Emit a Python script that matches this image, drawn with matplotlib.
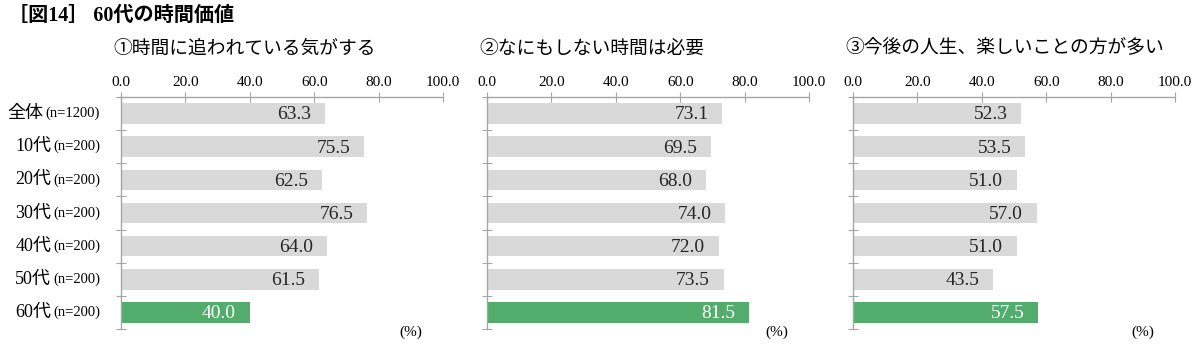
import matplotlib
matplotlib.use("Agg")
from matplotlib import pyplot as plt

# chart data
groups = ["全体", "10代", "20代", "30代", "40代", "50代", "60代"]
sizes = ["(n=1200)", "(n=200)", "(n=200)", "(n=200)", "(n=200)", "(n=200)", "(n=200)"]
titles = ["①時間に追われている気がする", "②なにもしない時間は必要", "③今後の人生、楽しいことの方が多い"]
values_1 = [63.3, 75.5, 62.5, 76.5, 64.0, 61.5, 40.0]
values_2 = [73.1, 69.5, 68.0, 74.0, 72.0, 73.5, 81.5]
values_3 = [52.3, 53.5, 51.0, 57.0, 51.0, 43.5, 57.5]
ticks = [0, 20, 40, 60, 80, 100]

serif = ["Liberation Serif", "Noto Sans CJK JP"]
sans = ["Noto Sans CJK JP", "DejaVu Sans"]
gray = "#D9D9D9"
green = "#52AD6D"
axis_col = "#A6A6A6"

fig = plt.figure(figsize=(12, 3.59), dpi=100)
fig.text(8 / 1200, 1 - 16 / 359, "［図14］ 60代の時間価値", family=serif,
         fontsize=14.5, fontweight="bold", ha="left", va="center")

lefts = [121, 487, 853]
panels = [values_1, values_2, values_3]
top, bottom = 97, 329

for k, (left, vals, title) in enumerate(zip(lefts, panels, titles)):
    ax = fig.add_axes([left / 1200, 1 - bottom / 359, 322 / 1200, (bottom - top) / 359])
    pos = list(range(len(groups)))
    colors = [gray] * (len(vals) - 1) + [green]
    ax.barh(pos, vals, height=0.62, color=colors, edgecolor="none")
    ax.set_xlim(0, 100)
    ax.set_ylim(len(groups) - 0.5, -0.5)

    # value labels inside bar end
    for i, v in enumerate(vals):
        c = "white" if i == len(vals) - 1 else "#262626"
        ax.annotate(f"{v:.1f}", (v, i), textcoords="offset points", xytext=(-10, -1),
                    ha="right", va="center", fontsize=14, family=serif, color=c)

    # axes style
    for s in ["right", "bottom"]:
        ax.spines[s].set_visible(False)
    for s in ["top", "left"]:
        ax.spines[s].set_color(axis_col)
        ax.spines[s].set_linewidth(1.0)
    ax.xaxis.tick_top()
    ax.set_xticks(ticks)
    ax.set_xticklabels([f"{t:.1f}" for t in ticks], family=serif, fontsize=11)
    ax.tick_params(axis="x", direction="inout", length=7, color=axis_col, pad=2)
    ax.set_yticks([i - 0.5 for i in range(len(groups) + 1)])
    ax.set_yticklabels([])
    ax.tick_params(axis="y", direction="inout", length=7, color=axis_col)

    # subplot title
    ax.annotate(title, (0, 1), xycoords="axes fraction", textcoords="offset pixels",
                xytext=(-8, 49), ha="left", va="center", fontsize=13.5, family=sans)
    ax.annotate("(%)", (0.9, 0), xycoords="axes fraction", textcoords="offset pixels",
                xytext=(0, -3), ha="center", va="center", fontsize=11, family=serif)

    # category labels only on first panel
    if k == 0:
        for i, (g, n) in enumerate(zip(groups, sizes)):
            small = ax.annotate(n, (0, i), xycoords=("axes fraction", "data"),
                                textcoords="offset pixels", xytext=(-21, 0),
                                ha="right", va="center", fontsize=10.5, family=serif)
            ax.annotate(g, (0, 0.5), xycoords=small, textcoords="offset pixels",
                        xytext=(-2, 0), ha="right", va="center",
                        fontsize=13, family=serif)

fig.savefig("out.png", dpi=100)
